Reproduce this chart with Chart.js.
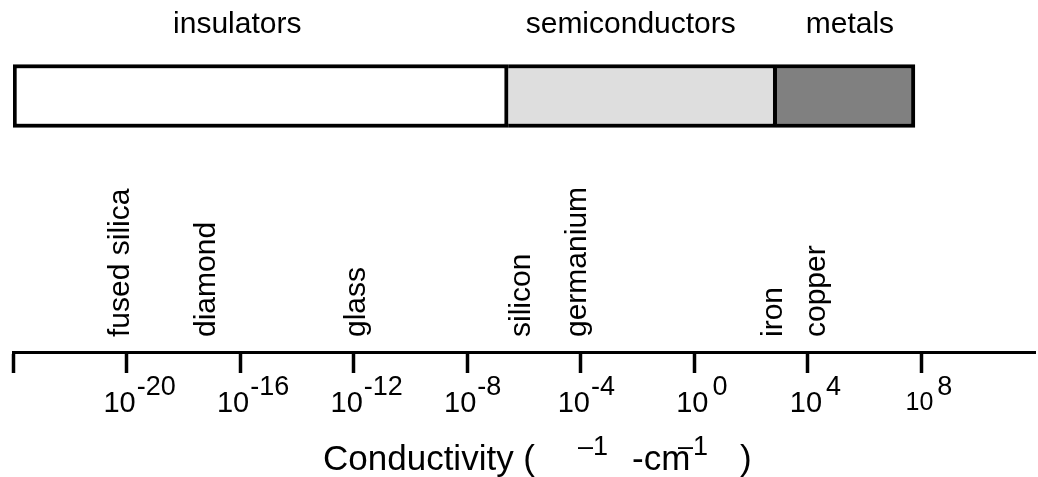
<!DOCTYPE html>
<html>
<head>
<meta charset="utf-8">
<script src="https://cdn.jsdelivr.net/npm/chart.js@4.4.1/dist/chart.umd.min.js"></script>
<style>
  html, body { margin: 0; padding: 0; background: #fff; }
  #wrap { width: 1038px; height: 477px; }
</style>
</head>
<body>
<div id="wrap"><canvas id="chart" width="1038" height="477"></canvas></div>
<script>
// conductivity bands, values are log10(sigma)
const bandNames = ['insulators', 'semiconductors', 'metals'];
const bandStart = [-24, -6.56, 2.9];
const bandEnd = [-6.56, 2.9, 7.77];
const bandColors = ['#ffffff', '#dedede', '#808080'];
// where each band name sits above the bar
const bandLabelAt = [-16.1, -2.24, 5.48];

// materials, log10 of conductivity
const materials = ['fused silica', 'diamond', 'glass', 'silicon', 'germanium', 'iron', 'copper'];
const materialLog = [-19.9, -16.9, -11.6, -5.8, -3.8, 3.1, 4.6];

// axis
const tickExponents = [-20, -16, -12, -8, -4, 0, 4, 8];
const axisMin = -24;
const axisMax = 12;

// the bar row on the hidden y scale (0 = top, 1 = axis line)
const bandRow = 0.25;

const FONT = '"Liberation Sans", Arial, Helvetica, sans-serif';

// draws all the texts, since chart.js can't do superscripts or rotated point labels
const textPlugin = {
  id: 'textPlugin',
  afterDraw(chart) {
    const ctx = chart.ctx;
    const x = chart.scales.x;
    const axisY = chart.chartArea.bottom;
    ctx.save();
    ctx.fillStyle = '#000';
    ctx.textBaseline = 'alphabetic';

    // band names on top
    ctx.font = '30px ' + FONT;
    ctx.textAlign = 'center';
    bandNames.forEach((name, i) => {
      ctx.fillText(name, x.getPixelForValue(bandLabelAt[i]), 33);
    });

    // material names, vertical
    ctx.textAlign = 'left';
    materials.forEach((name, i) => {
      ctx.save();
      ctx.translate(x.getPixelForValue(materialLog[i]), axisY - 15);
      ctx.rotate(-Math.PI / 2);
      ctx.fillText(name, 0, 0);
      ctx.restore();
    });

    // tick labels 10^n
    tickExponents.forEach((e, i) => {
      const px = x.getPixelForValue(e) - (e < 0 ? 7 : 2);
      const last = i === tickExponents.length - 1;
      ctx.font = (last ? 25 : 29) + 'px ' + FONT;
      ctx.textAlign = 'center';
      const w = ctx.measureText('10').width;
      ctx.fillText('10', px, axisY + (last ? 58 : 60));
      ctx.font = '27px ' + FONT;
      ctx.textAlign = 'left';
      ctx.fillText(String(e), px + w / 2 + (e < 0 ? 1 : 4), axisY + 43);
    });

    // axis title
    const ty = axisY + 118;
    const x0 = 323;
    ctx.textAlign = 'left';
    ctx.font = '35px ' + FONT;
    ctx.fillText('Conductivity (', x0, ty);
    ctx.fillText('-cm', x0 + 309, ty);
    ctx.fillText(')', x0 + 417, ty);
    ctx.font = '27px ' + FONT;
    ctx.fillText('\u20131', x0 + 255, ty - 15);
    ctx.fillText('\u20131', x0 + 355, ty - 15);
    ctx.restore();
  }
};

new Chart(document.getElementById('chart'), {
  type: 'bar',
  data: {
    datasets: bandNames.map((name, i) => ({
      label: name,
      data: [{ x: [bandStart[i], bandEnd[i]], y: bandRow }],
      backgroundColor: bandColors[i],
      borderColor: '#000',
      // neighbours share one divider line
      borderWidth: { top: 4, bottom: 4, right: 4, left: i === 0 ? 4 : 0 },
      borderSkipped: false,
      barThickness: 63,
      grouped: false
    }))
  },
  options: {
    indexAxis: 'y',
    responsive: false,
    animation: false,
    devicePixelRatio: 1,
    layout: { padding: { left: 13, right: 3, top: 0, bottom: 104 } },
    plugins: {
      legend: { display: false },
      tooltip: { enabled: false }
    },
    scales: {
      x: {
        type: 'linear',
        position: 'bottom',
        min: axisMin,
        max: axisMax,
        ticks: { display: false, stepSize: 4 },
        grid: {
          drawOnChartArea: false,
          drawTicks: true,
          tickLength: 21,
          tickWidth: 3.5,
          tickColor: c => (c.tick && c.tick.value === axisMax) ? 'rgba(0,0,0,0)' : '#000'
        },
        border: { display: true, color: '#000', width: 3 }
      },
      y: { type: 'linear', display: false, min: 0, max: 1, reverse: true }
    }
  },
  plugins: [textPlugin]
});
</script>
</body>
</html>
